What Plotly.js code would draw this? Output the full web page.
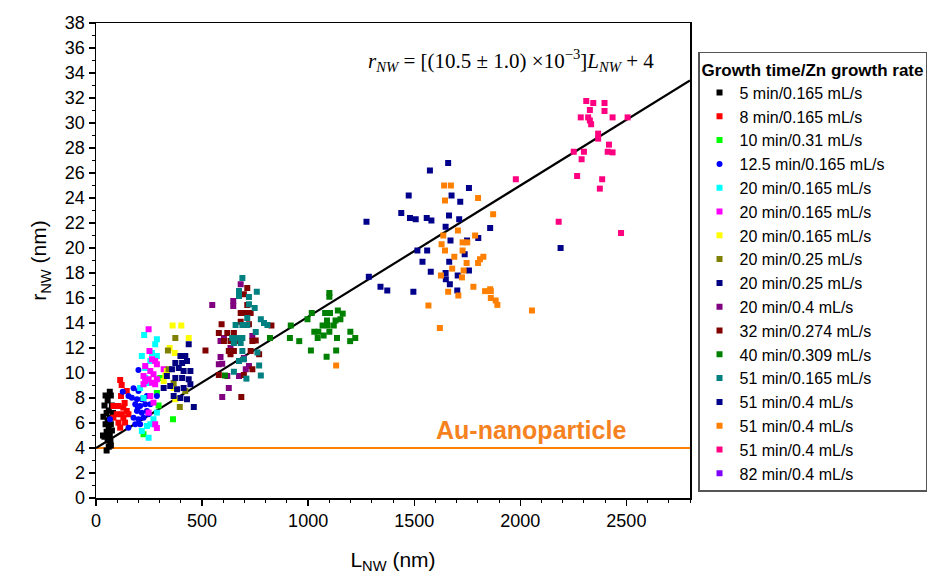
<!DOCTYPE html>
<html>
<head>
<meta charset="utf-8">
<script src="https://cdn.plot.ly/plotly-3.0.1.min.js"></script>
<style>html,body{margin:0;padding:0;background:#fff;}#chart{width:950px;height:576px;}</style>
</head>
<body>
<div id="chart"></div>
<script>
// ---- Data (L_NW in nm, r_NW in nm) ----
const seriesNames = [
  "5 min/0.165 mL/s", "8 min/0.165 mL/s", "10 min/0.31 mL/s", "12.5 min/0.165 mL/s",
  "20 min/0.165 mL/s", "20 min/0.165 mL/s", "20 min/0.165 mL/s", "20 min/0.25 mL/s",
  "20 min/0.25 mL/s", "20 min/0.4 mL/s", "32 min/0.274 mL/s", "40 min/0.309 mL/s",
  "51 min/0.165 mL/s", "51 min/0.4 mL/s", "51 min/0.4 mL/s", "51 min/0.4 mL/s", "82 min/0.4 mL/s"
];
const seriesColors = ["#000000","#FF0000","#00FF00","#0000FF","#00FFFF","#FF00FF","#FFFF00","#808000",
  "#000080","#800080","#800000","#008000","#008080","#00008B","#FF8000","#FF0080","#8000FF"];

const x5 = [65,45,70,55,40,75,60,50,80,35,65,55,45,70,33,60,75,50,65,40,55,70,60,50,68];
const y5 = [8.5,8.2,8.2,7.8,7.4,7.4,7.0,6.8,6.8,6.5,6.4,6.2,5.9,5.9,5.0,5.6,5.4,5.3,5.0,4.9,4.6,4.2,4.1,3.8,4.5];

const x8 = [114,121,145,118,82,106,129,145,98,121,153,82,129,106,137,114,135];
const y8 = [9.44,9.04,8.56,8.16,7.36,7.36,7.23,6.96,6.7,6.7,6.7,6.43,6.43,6.03,6.03,5.63,7.6];

const x10 = [303,363,224,287,295];
const y10 = [9.6,6.3,5.1,8.4,7.4];

const x125 = [200,126,177,153,169,193,216,240,287,185,208,232,256,193,216,240,177,200,224,248,185,208,153,66,200,197];
const y125 = [10.24,8.5,8.78,8.16,8.03,7.9,7.9,8.16,8.16,7.5,7.36,7.5,7.5,6.96,6.83,6.96,6.43,6.3,6.43,6.7,5.9,5.9,5.63,6.3,8.56,7.23];

const x20a = [227,287,279,264,216,287,232,256,243,208,224,256,240,216,248,287,271,232];
const y20a = [13.04,12.7,12.3,11.6,11.36,11.36,10.4,10.96,9.2,8.8,8.0,5.9,5.76,5.36,4.82,6.83,6.3,9.6];

const x20b = [248,252,264,279,287,232,256,271,224,248,287,232,264,224,279,256,248,279,287,271,319];
const y20b = [13.5,11.76,11.1,10.96,10.7,10.56,10.16,9.9,9.76,9.5,9.5,9.36,9.22,9.1,9.1,8.16,6.83,5.9,5.6,7.63,10.3];

const x20c = [361,402,347,371,437,327,334,366,374,319];
const y20c = [13.8,13.8,12.0,11.6,12.8,9.8,10.16,8.8,7.9,9.36];

const x20d = [374,339,342,421,395,366];
const y20d = [12.8,11.8,10.3,8.56,7.28,9.2];

const x20e = [437,398,421,374,406,429,358,390,413,445,334,374,406,437,319,350,382,413,445,366,398,429,461];
const y20e = [12.3,11.36,11.36,10.8,10.8,10.96,10.3,10.4,10.16,10.16,9.76,9.6,9.6,9.5,8.8,8.96,8.7,8.8,9.1,8.16,8.0,7.9,7.28];

const x20f = [548,682,647,647,603,587,595,619,626,595,706,721,674,697,587,634,737,579];
const y20f = [15.44,17.1,15.76,15.36,12.8,11.28,10.74,9.76,8.8,8.08,10.3,10.56,9.76,11.2,12.56,12.0,12.96,10.7];

const x32 = [713,697,713,682,705,729,682,592,721,827,579,619,650,603,634,666,737,753,516,626,650,729,634,769,579,697,737,685];
const y32 = [16.8,16.3,15.44,14.8,14.8,14.8,14.1,13.9,13.9,13.8,13.2,13.2,13.2,12.56,12.56,12.56,12.56,12.6,11.8,11.76,11.76,11.76,11.5,11.5,9.84,9.84,10.3,8.08];

const x40 = [1100,1100,1017,997,1080,1103,1140,1163,1152,1129,1089,918,1068,1092,1121,1029,1048,1100,1199,820,914,958,1045,1073,1136,1198,1222,1013,1132,1087,608];
const y40 = [16.4,16.1,14.8,14.3,14.8,14.8,15.0,14.75,14.3,14.2,14.2,13.8,13.8,13.8,13.8,13.3,13.3,13.3,13.3,12.8,12.8,12.55,12.8,13.0,12.8,12.55,12.8,11.8,11.8,11.3,9.8];

const x51a = [690,674,674,721,758,721,748,777,792,808,658,690,713,753,642,666,690,650,682,690,761,697,674,769,650,777,709,713];
const y51a = [17.6,16.56,16.16,16.08,16.5,15.5,15.2,14.3,14.0,13.84,13.84,13.84,13.84,13.28,12.8,12.8,12.8,12.4,12.4,11.76,11.64,11.1,10.96,10.6,10.1,9.8,9.55,14.4];

const x51b = [1660,1574,1474,1676,1758,1717,1439,1480,1507,1559,1581,1664,1712,1275,1648,1858,1671,1802,1749,1515,1561,1539,1665,1738,1578,1648,1705,1758,1649,1668,1286,1341,1373,1496,1703,2190];
const y51b = [26.8,26.2,24.2,24.2,24.8,23.7,22.8,22.4,22.3,22.4,22.2,22.6,22.3,22.1,21.7,21.6,20.6,20.8,20.6,19.8,19.8,18.9,18.9,19.5,18.1,18.0,17.8,18.2,17.5,17.1,17.7,16.9,16.6,16.5,16.6,20.0];

const x51c = [1641,1673,1645,1801,1872,1706,1637,1787,1728,1750,1629,1645,1728,1689,1826,1810,1747,1801,1679,1733,1626,1725,1779,1834,1858,1861,1660,1708,1861,1884,1892,1567,2055,1621,1132];
const y51c = [25.0,25.0,23.8,24.0,22.7,21.4,21.0,21.0,20.45,20.45,20.3,19.8,19.8,19.3,19.3,19.1,18.8,18.8,18.35,18.2,17.8,17.65,16.9,16.55,16.7,16.55,16.5,16.2,16.0,15.8,15.45,15.4,15.0,13.6,10.6];

const x51d = [2311,2344,2397,2328,2397,2285,2320,2435,2506,2328,2334,2367,2367,2418,2252,2300,2412,2435,2289,2268,2386,2375,2181,2475,1979];
const y51d = [31.76,31.6,31.6,31.04,30.96,30.45,30.45,30.45,30.45,30.2,29.9,29.15,28.75,28.27,27.7,27.7,27.7,27.65,27.1,25.76,25.5,24.75,22.1,21.2,25.5];

// 82 min series: legend entry only, no points visible in the reference
const x82 = [null];
const y82 = [null];

const seriesX = [x5,x8,x10,x125,x20a,x20b,x20c,x20d,x20e,x20f,x32,x40,x51a,x51b,x51c,x51d,x82];
const seriesY = [y5,y8,y10,y125,y20a,y20b,y20c,y20d,y20e,y20f,y32,y40,y51a,y51b,y51c,y51d,y82];

// fit line and Au-nanoparticle level
const fitSlope = 0.0105;
const fitIntercept = 4;
const fitX = [0, 2800];
const auLevel = 4;
const auX = [0, 2800];

const xTickVals = [0,500,1000,1500,2000,2500];
const yTickVals = [0,2,4,6,8,10,12,14,16,18,20,22,24,26,28,30,32,34,36,38];

// ---- Build traces ----
const traces = [];
traces.push({x: auX, y: auX.map(() => auLevel), mode: 'lines', line: {color: '#FF8000', width: 2}, showlegend: false, hoverinfo: 'skip'});
traces.push({x: fitX, y: fitX.map(v => fitSlope * v + fitIntercept), mode: 'lines', line: {color: '#000000', width: 2.2}, showlegend: false, hoverinfo: 'skip'});
seriesNames.forEach((name, i) => {
  traces.push({
    x: seriesX[i], y: seriesY[i], name: name, type: 'scatter', mode: 'markers',
    marker: {color: seriesColors[i], size: 6, symbol: i === 3 ? 'circle' : 'square', line: {width: 0}}
  });
});

const font = 'Liberation Sans, Arial, sans-serif';
const layout = {
  width: 950, height: 576,
  margin: {l: 96, r: 260, t: 23, b: 78, autoexpand: false},
  paper_bgcolor: '#fff', plot_bgcolor: '#fff',
  font: {family: font, color: '#000', size: 18},
  showlegend: true,
  xaxis: {
    range: [0, 2800], tickvals: xTickVals, ticktext: xTickVals.map(String),
    ticks: 'outside', ticklen: 6, tickwidth: 1.3, tickcolor: '#000',
    minor: {dtick: 100, tick0: 0, ticks: 'outside', ticklen: 3, tickwidth: 1, tickcolor: '#000', showgrid: false},
    showline: true, mirror: true, linecolor: '#000', linewidth: 1.5,
    showgrid: false, zeroline: false, tickfont: {size: 18},
    title: {text: 'L<sub>NW</sub> (nm)', font: {size: 21}, standoff: 22}
  },
  yaxis: {
    range: [0, 38], tickvals: yTickVals, ticktext: yTickVals.map(String),
    ticks: 'outside', ticklen: 6, tickwidth: 1.3, tickcolor: '#000',
    minor: {dtick: 1, tick0: 0, ticks: 'outside', ticklen: 3, tickwidth: 1, tickcolor: '#000', showgrid: false},
    showline: true, mirror: true, linecolor: '#000', linewidth: 1.5,
    showgrid: false, zeroline: false, tickfont: {size: 18},
    title: {text: 'r<sub>NW</sub> (nm)', font: {size: 21}, standoff: 12}
  },
  legend: {
    x: 1.0135, xanchor: 'left', y: 0.939, yanchor: 'top',
    bordercolor: '#555', borderwidth: 1.5, bgcolor: '#fff',
    font: {size: 16, family: font, color: '#000'},
    title: {text: '<b>Growth time/Zn growth rate</b>', font: {size: 17, family: font}},
    itemwidth: 30, tracegroupgap: 0
  },
  annotations: [
    {x: 1955, y: 35.0, xref: 'x', yref: 'y', showarrow: false,
     text: '<i>r</i><sub><i>NW</i></sub> = [(10.5 ± 1.0) ×10<sup>−3</sup>]<i>L</i><sub><i>NW</i></sub> + 4',
     font: {family: 'Liberation Serif, DejaVu Serif, serif', size: 21, color: '#000'}},
    {x: 2049, y: 5.45, xref: 'x', yref: 'y', showarrow: false,
     text: '<b>Au-nanoparticle</b>', font: {family: font, size: 25, color: '#F5821F'}}
  ]
};

Plotly.newPlot('chart', traces, layout, {staticPlot: true, displayModeBar: false});
</script>
</body>
</html>
